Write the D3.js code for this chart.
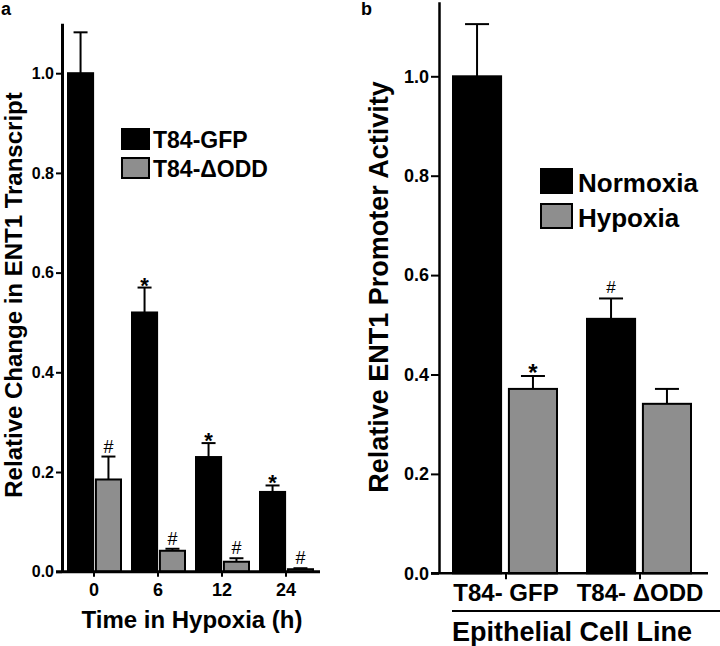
<!DOCTYPE html>
<html><head><meta charset="utf-8">
<script src="https://cdn.jsdelivr.net/npm/d3@7"></script>
<style>
html,body{margin:0;padding:0;background:#fff;}
text{font-family:"Liberation Sans",Arial,sans-serif;font-weight:bold;fill:#000;}
</style></head>
<body><svg id="c" width="720" height="646"></svg>
<script>
// ---- Panel a data ----
const timesA = ["0", "6", "12", "24"];
const seriesA = ["T84-GFP", "T84-\u0394ODD"];
const gfpA = [1.0, 0.52, 0.23, 0.16];
const gfpErrA = [0.082, 0.05, 0.028, 0.013];
const oddA = [0.185, 0.042, 0.02, 0.005];
const oddErrA = [0.046, 0.004, 0.007, 0.002];
const gfpSigA = ["", "*", "*", "*"];
const oddSigA = ["#", "#", "#", "#"];
const yTicksA = [0, 0.2, 0.4, 0.6, 0.8, 1.0];

// ---- Panel b data ----
const linesB = ["T84- GFP", "T84- \u0394ODD"];
const seriesB = ["Normoxia", "Hypoxia"];
const normB = [1.0, 0.512];
const normErrB = [0.105, 0.041];
const hypB = [0.371, 0.341];
const hypErrB = [0.026, 0.03];
const normSigB = ["", "#"];
const hypSigB = ["*", ""];
const yTicksB = [0, 0.2, 0.4, 0.6, 0.8, 1.0];

const colors = ["#000000", "#8e8e8e"];
const svg = d3.select("#c");

function panel(cfg) {
  const g = svg.append("g");
  const y = d3.scaleLinear().domain(cfg.yDomain).range(cfg.yRange);
  const x = d3.scaleBand().domain(cfg.cats).range(cfg.xRange).padding(0);
  const xs = d3.scaleBand().domain(cfg.series).range(cfg.subRange).paddingInner(cfg.subPad).paddingOuter(0);
  const vals = [cfg.v0, cfg.v1], errs = [cfg.e0, cfg.e1], sigs = [cfg.s0, cfg.s1];

  cfg.cats.forEach((c, i) => {
    cfg.series.forEach((s, k) => {
      const x0 = x(c) + xs(s), w = xs.bandwidth();
      const v = vals[k][i], e = errs[k][i];
      const cx = x0 + w / 2;
      g.append("line").attr("x1", cx).attr("x2", cx).attr("y1", y(v)).attr("y2", y(v + e))
        .attr("stroke", "#000").attr("stroke-width", 2);
      g.append("line").attr("x1", cx - cfg.cap / 2).attr("x2", cx + cfg.cap / 2).attr("y1", y(v + e)).attr("y2", y(v + e))
        .attr("stroke", "#000").attr("stroke-width", 2);
      g.append("rect").attr("x", x0).attr("y", y(v)).attr("width", w).attr("height", y(0) - y(v))
        .attr("fill", colors[k]).attr("stroke", "#000").attr("stroke-width", 2);
      const sg = sigs[k][i];
      if (sg) {
        const isStar = sg === "*";
        g.append("text").attr("x", cx).attr("y", y(v + e) + (isStar ? cfg.starDy : cfg.hashDy))
          .attr("text-anchor", "middle")
          .style("font-size", isStar ? cfg.starSize : cfg.hashSize)
          .style("font-weight", isStar ? "bold" : "normal")
          .text(sg);
      }
    });
  });

  const ya = g.append("g").attr("transform", `translate(${cfg.xRange[0]},0)`)
    .call(d3.axisLeft(y).tickValues(cfg.yTicks).tickFormat(d3.format(".1f")).tickSize(cfg.yTickSize).tickPadding(2).tickSizeOuter(0));
  ya.select(".domain").attr("stroke-width", cfg.axisW);
  ya.selectAll(".tick line").attr("stroke-width", 2);
  ya.selectAll("text").style("font-size", cfg.yTickFont + "px").attr("fill", "#000");

  const xa = g.append("g").attr("transform", `translate(0,${y(0)})`)
    .call(d3.axisBottom(x).tickSize(cfg.xTickSize).tickPadding(cfg.xTickPad).tickSizeOuter(0));
  xa.select(".domain").attr("d", `M${cfg.xRange[0] - cfg.yTickSize},0H${cfg.xAxisEnd}`).attr("stroke-width", cfg.axisW);
  xa.selectAll(".tick line").attr("stroke-width", 2);
  xa.selectAll("text").style("font-size", cfg.xTickFont + "px").attr("fill", "#000");

  g.append("text").attr("transform", `translate(${cfg.yTitleX},${cfg.yTitleY}) rotate(-90)`)
    .attr("text-anchor", "middle").style("font-size", cfg.yTitleSize + "px").text(cfg.yTitle);
  g.append("text").attr("x", cfg.xTitleX).attr("y", cfg.xTitleY).attr("text-anchor", "middle")
    .style("font-size", cfg.xTitleSize + "px").text(cfg.xTitle);
  g.append("text").attr("x", cfg.labelX).attr("y", 15).style("font-size", "18px").text(cfg.label);

  cfg.series.forEach((s, k) => {
    const ly = cfg.leg.y + k * cfg.leg.dy;
    g.append("rect").attr("x", cfg.leg.x).attr("y", ly).attr("width", cfg.leg.w).attr("height", cfg.leg.h)
      .attr("fill", colors[k]).attr("stroke", "#000").attr("stroke-width", 2);
    g.append("text").attr("x", cfg.leg.x + cfg.leg.w + cfg.leg.gap).attr("y", ly + cfg.leg.h - 1)
      .style("font-size", cfg.leg.font + "px").text(s);
  });
  return { g, x, y };
}

panel({
  cats: timesA, series: seriesA, v0: gfpA, v1: oddA, e0: gfpErrA, e1: oddErrA, s0: gfpSigA, s1: oddSigA,
  yDomain: [0, 1.1], yRange: [571.7, 23.35], xRange: [62, 318], subRange: [6, 59], subPad: 0.1,
  xAxisEnd: 320, cap: 14, axisW: 3, yTicks: yTicksA, yTickSize: 6, yTickFont: 16,
  xTickSize: 5, xTickPad: 7, xTickFont: 18, starDy: 5, hashDy: -4, starSize: "22px", hashSize: "18px",
  yTitle: "Relative Change in ENT1 Transcript", yTitleX: 22, yTitleY: 295, yTitleSize: 24,
  xTitle: "Time in Hypoxia (h)", xTitleX: 192, xTitleY: 628, xTitleSize: 24,
  label: "a", labelX: 1,
  leg: { x: 122, y: 129, w: 27, h: 20, dy: 29, gap: 4, font: 23 }
});

const pb = panel({
  cats: linesB, series: seriesB, v0: normB, v1: hypB, e0: normErrB, e1: hypErrB, s0: normSigB, s1: hypSigB,
  yDomain: [0, 1.15], yRange: [573.3, 573.3 - 1.15 * 497], xRange: [439, 707], subRange: [14, 118], subPad: 0.14,
  xAxisEnd: 708, cap: 24, axisW: 2.5, yTicks: yTicksB, yTickSize: 8, yTickFont: 18,
  xTickSize: 6, xTickPad: 5, xTickFont: 24, starDy: 5, hashDy: -5, starSize: "24px", hashSize: "17px",
  yTitle: "Relative ENT1 Promoter Activity", yTitleX: 388, yTitleY: 287, yTitleSize: 27,
  xTitle: "Epithelial Cell Line", xTitleX: 572, xTitleY: 641, xTitleSize: 27,
  label: "b", labelX: 361,
  leg: { x: 541, y: 169, w: 31, h: 24, dy: 35, gap: 6, font: 26 }
});
pb.g.append("line").attr("x1", 452).attr("x2", 720).attr("y1", 611).attr("y2", 611)
  .attr("stroke", "#000").attr("stroke-width", 2);
</script></body></html>
